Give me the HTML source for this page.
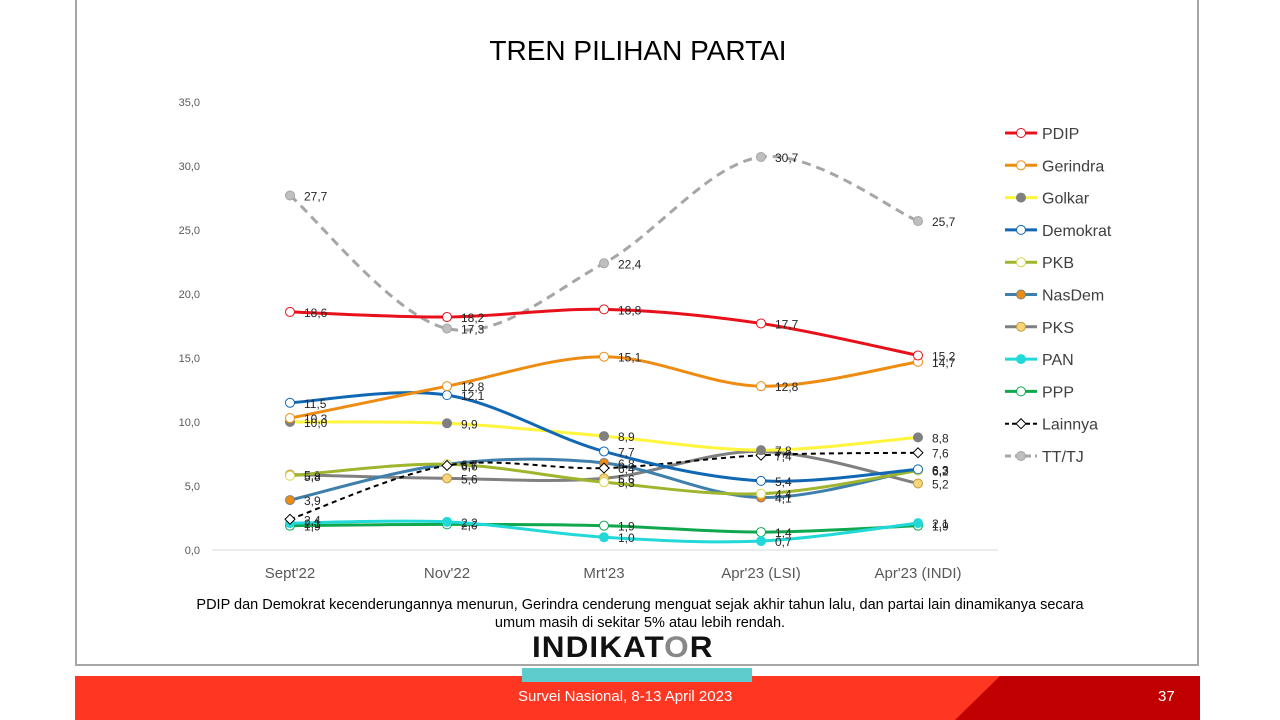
<!DOCTYPE html>
<html><head><meta charset="utf-8"><style>
body{margin:0;width:1280px;height:720px;background:#fff;font-family:"Liberation Sans",sans-serif;overflow:hidden;position:relative}
</style></head><body>
<div style="position:absolute;left:75px;top:-2px;width:1124px;height:668px;border:2px solid #a6a6a6;box-sizing:border-box"></div>
<div style="position:absolute;left:75px;top:676px;width:1125px;height:44px;background:#ff3621"></div>
<svg style="position:absolute;left:0;top:0" width="1280" height="720"><polygon points="1000,676 1200,676 1200,720 955,720" fill="#c00000"/></svg>
<div style="position:absolute;left:518px;top:688px;color:#fff;font-size:15px">Survei Nasional, 8-13 April 2023</div>
<div style="position:absolute;left:1158px;top:688px;color:#fff;font-size:15px">37</div>
<div style="position:absolute;left:522px;top:668px;width:230px;height:14px;background:#5ecccc"></div>
<div style="position:absolute;left:532px;top:631px;font-size:30px;font-weight:bold;letter-spacing:1px;color:#111;transform:scaleX(1.05);transform-origin:left">INDIKAT<span style="color:#888">O</span>R</div>
<div style="position:absolute;left:0;width:1276px;top:35px;text-align:center;font-size:28px;color:#000">TREN PILIHAN PARTAI</div>
<div style="position:absolute;left:60px;width:1160px;top:596px;text-align:center;font-size:14.5px;line-height:18px;color:#000">PDIP dan Demokrat kecenderungannya menurun, Gerindra cenderung menguat sejak akhir tahun lalu, dan partai lain dinamikanya secara<br>umum masih di sekitar 5% atau lebih rendah.</div>
<svg id="chart" style="position:absolute;left:0;top:0" width="1280" height="720"></svg>
<script>
const categories=["Sept'22","Nov'22","Mrt'23","Apr'23 (LSI)","Apr'23 (INDI)"];
const yTicks=[0,5,10,15,20,25,30,35];
const seriesNames=["PDIP","Gerindra","Golkar","Demokrat","PKB","NasDem","PKS","PAN","PPP","Lainnya","TT/TJ"];
const PDIP=[18.6,18.2,18.8,17.7,15.2];
const Gerindra=[10.3,12.8,15.1,12.8,14.7];
const Golkar=[10.0,9.9,8.9,7.8,8.8];
const Demokrat=[11.5,12.1,7.7,5.4,6.3];
const PKB=[5.8,6.7,5.3,4.4,6.2];
const NasDem=[3.9,6.7,6.8,4.1,6.3];
const PKS=[5.9,5.6,5.6,7.7,5.2];
const PAN=[2.1,2.2,1.0,0.7,2.1];
const PPP=[1.9,2.0,1.9,1.4,1.9];
const Lainnya=[2.4,6.6,6.4,7.4,7.6];
const TTTJ=[27.7,17.3,22.4,30.7,25.7];
const allValues=[PDIP,Gerindra,Golkar,Demokrat,PKB,NasDem,PKS,PAN,PPP,Lainnya,TTTJ];
const colors=["#e8101a","#ee8c12","#fff53c","#1068b4","#9fb52e","#3f7fab","#808080","#22d8d8","#10a84e","#000","#a6a6a6"];
const markerFill=["#fff","#fff","#808080","#fff","#fff","#ee8c12","#fbd37a","#22d8d8","#fff","#fff","#bfbfbf"];
const markerStroke=["#e8101a","#ee8c12","#808080","#1068b4","#d9d650","#808080","#bfa040","#22d8d8","#10a84e","#000","#a6a6a6"];
const svg=document.getElementById('chart');const NS="http://www.w3.org/2000/svg";
const x=i=>290+i*157;const y=v=>550-v*12.8;
function mk(t,a,txt){const e=document.createElementNS(NS,t);for(const k in a)e.setAttribute(k,a[k]);if(txt!=null)e.textContent=txt;svg.appendChild(e);return e;}
let el=mk('line',{x1:212,x2:998,y1:550,y2:550,stroke:'#d9d9d9'});


yTicks.forEach(t=>{const e=mk('text',{x:200,y:y(t)+4,'text-anchor':'end','font-size':11,fill:'#595959'},t.toFixed(1).replace('.',','));

});
categories.forEach((c,i)=>{const e=mk('text',{x:x(i),y:578,'text-anchor':'middle','font-size':15,fill:'#595959'},c);

});
function path(vals){const p=vals.map((v,i)=>[x(i),y(v)]);let d=`M${p[0][0]},${p[0][1]}`;for(let i=0;i<p.length-1;i++){const p0=p[i-1]||p[i],p1=p[i],p2=p[i+1],p3=p[i+2]||p2;const t=6;d+=` C${p1[0]+(p2[0]-p0[0])/t},${p1[1]+(p2[1]-p0[1])/t} ${p2[0]-(p3[0]-p1[0])/t},${p2[1]-(p3[1]-p1[1])/t} ${p2[0]},${p2[1]}`;}return d;}
const order=[10,8,7,6,5,4,9,2,3,1,0];
order.forEach(s=>{const vals=allValues[s];const dash=s==9?'5,4':(s==10?'9,6':'none');
const l=mk('path',{d:path(vals),fill:'none',stroke:colors[s],'stroke-width':s==9?2:3,'stroke-dasharray':dash});


vals.forEach((v,i)=>{let m;if(s==9){m=mk('rect',{x:x(i)-3.5,y:y(v)-3.5,width:7,height:7,fill:'#fff',stroke:'#000',transform:`rotate(45 ${x(i)} ${y(v)})`});}else{m=mk('circle',{cx:x(i),cy:y(v),r:4.5,fill:markerFill[s],stroke:markerStroke[s],'stroke-width':1});}


const tx=mk('text',{x:x(i)+14,y:y(v)+5,'font-size':12,fill:'#262626'},v.toFixed(1).replace('.',','));

});});
seriesNames.forEach((n,s)=>{const yy=133+s*32.3;
const l=mk('line',{x1:1005,x2:1037,y1:yy,y2:yy,stroke:colors[s],'stroke-width':s==9?2:3,'stroke-dasharray':s==9?'4,3':(s==10?'6,4':'none')});


const m=s==9?mk('rect',{x:1017.5,y:yy-3.5,width:7,height:7,fill:'#fff',stroke:'#000',transform:`rotate(45 1021 ${yy})`}):mk('circle',{cx:1021,cy:yy,r:4.5,fill:markerFill[s],stroke:markerStroke[s]});


const t=mk('text',{x:1042,y:yy+6,'font-size':16,fill:'#404040'},n);

});
</script>
</body></html>
